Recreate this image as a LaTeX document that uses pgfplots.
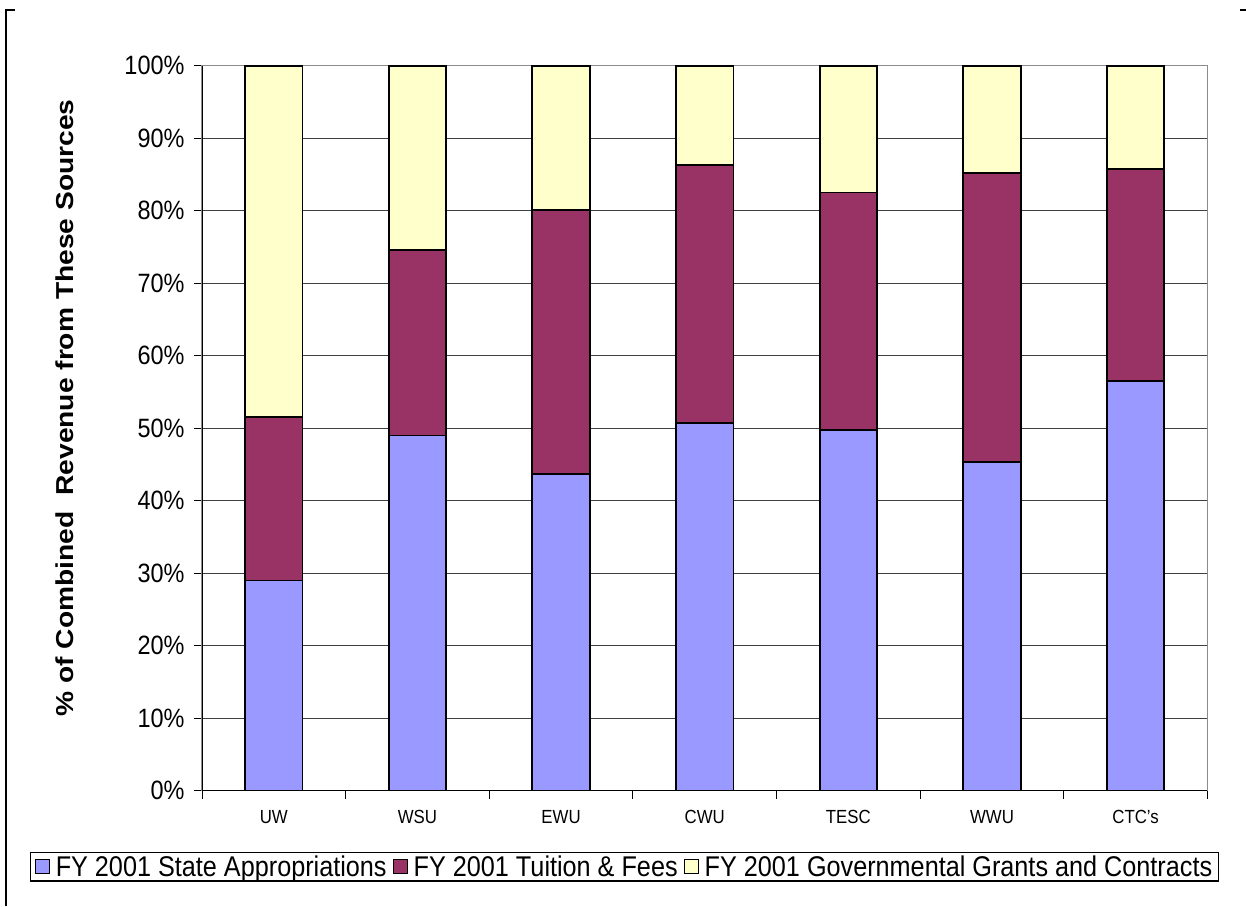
\documentclass[border=0pt]{standalone}
\usepackage{fontspec}
\setmainfont{Liberation Sans}[FakeStretch=0.885]
\newfontfamily\titlefont{Liberation Sans}[FakeStretch=1.15]
\usepackage{pgfplots}
\pgfplotsset{compat=1.18}
\definecolor{stateblue}{HTML}{9999FF}
\definecolor{tuitionplum}{HTML}{993366}
\definecolor{grantcream}{HTML}{FFFFCC}

\begin{document}
\begin{tikzpicture}[x=1pt,y=1pt]
\useasboundingbox (0,0) rectangle (1246,906);
% outer chart frame
\draw[line width=1.8pt] (6,0) -- (6,896) -- (15,896);
\draw[line width=1.8pt] (1240,896) -- (1246,896);
\begin{axis}[
  at={(202pt,115.3pt)}, anchor=south west,
  scale only axis, width=1005.5pt, height=725pt,
  ybar stacked, bar width=0.4,
  xmin=-0.5, xmax=6.5, ymin=0, ymax=100,
  enlarge x limits=false, enlarge y limits=false,
  xtick={0,...,6},
  xticklabels={UW,WSU,EWU,CWU,TESC,WWU,CTC's},
  minor xtick={-0.5,0.5,...,6.5},
  ytick={0,10,...,100},
  yticklabel={\pgfmathprintnumber{\tick}\%},
  /pgf/number format/assume math mode=true,
  tick align=outside,
  major tick length=8pt, minor tick length=8pt,
  major x tick style={draw=none},
  minor x tick style={black, line width=1pt},
  major y tick style={black, line width=1pt},
  xtick pos=bottom, ytick pos=left,
  xticklabel style={font=\fontsize{19}{22}\selectfont, text height=13.5pt, text depth=0pt, yshift=-8pt},
  yticklabel style={font=\fontsize{26.5}{30}\selectfont, xshift=-6pt},
  ymajorgrids,
  major grid style={black!75, line width=1pt},
  axis line style={draw=black!45, line width=1.2pt},
  ylabel={\titlefont\bfseries\fontsize{24.5}{28}\selectfont \% of Combined~~Revenue from These Sources},
  ylabel style={at={(axis description cs:-0.1362,0.528)}, anchor=center},
  legend columns=-1,
  legend style={at={(axis description cs:0.4202,-0.1052)}, anchor=center,
    draw=black, line width=1.2pt, inner xsep=4pt, inner ysep=1pt,
    font=\fontsize{28.5}{31}\selectfont,
    /tikz/every odd column/.append style={column sep=4pt},
    /tikz/every even column/.append style={column sep=4pt}},
  legend image code/.code={\draw[#1, line width=1pt] (0pt,-7pt) rectangle (14pt,7pt);},
]
\addplot[draw=black, line width=1.8pt, fill=stateblue] coordinates {(0,29.0) (1,49.0) (2,43.7) (3,50.7) (4,49.7) (5,45.3) (6,56.5)};
\addplot[draw=black, line width=1.8pt, fill=tuitionplum] coordinates {(0,22.6) (1,25.6) (2,36.4) (3,35.6) (4,32.8) (5,39.9) (6,29.2)};
\addplot[draw=black, line width=1.8pt, fill=grantcream] coordinates {(0,48.4) (1,25.4) (2,19.9) (3,13.7) (4,17.5) (5,14.8) (6,14.3)};
\legend{FY 2001 State Appropriations, FY 2001 Tuition \& Fees, FY 2001 Governmental Grants and Contracts}
\draw[black, line width=1.3pt] (rel axis cs:0,1) -- (rel axis cs:0,0) -- (rel axis cs:1,0);
\end{axis}
\end{tikzpicture}
\end{document}
